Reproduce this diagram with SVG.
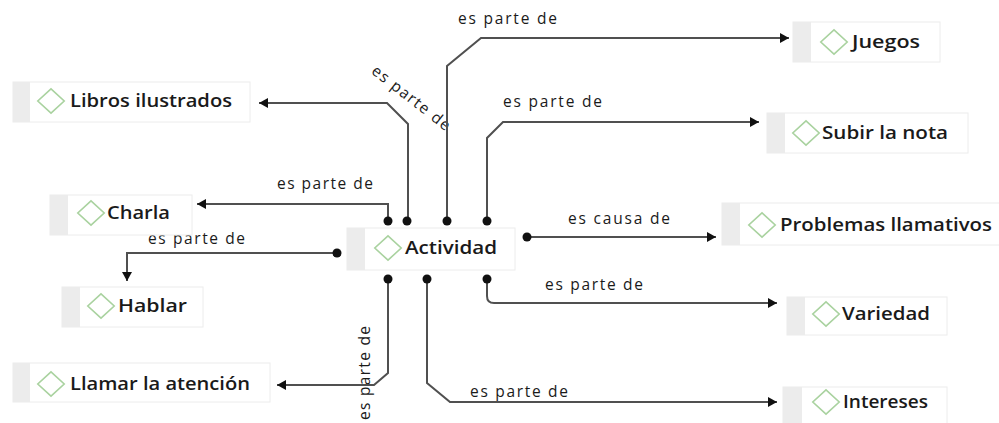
<svg xmlns="http://www.w3.org/2000/svg" width="999" height="423" viewBox="0 0 999 423">
<style>
.bg{fill:#ffffff}
.box{fill:#ffffff;stroke:#ececec;stroke-width:1}
.strip{fill:#ececec}
.dia{fill:#ffffff;stroke:#a9d29f;stroke-width:1.6}
.nt{font-family:"Open Sans","Noto Sans",sans-serif;font-weight:600;font-size:18px;fill:#1a1a1a}
.lt{font-family:"Open Sans","Noto Sans",sans-serif;font-size:15.5px;fill:#1a1a1a}
.c{fill:none;stroke:#505050;stroke-width:2}
.dot{fill:#111111}
</style>
<defs>
<marker id="ah" markerUnits="userSpaceOnUse" markerWidth="12" markerHeight="12" viewBox="0 0 12 12" refX="10" refY="6" orient="auto">
<path d="M1,1 L10,6 L1,11 Z" fill="#111111"/>
</marker>
<symbol id="d" viewBox="0 0 28 26" overflow="visible"><path class="dia" d="M14,0.8 L27.2,13 L14,25.2 L0.8,13 Z"/></symbol>
</defs>
<rect class="bg" x="0" y="0" width="999" height="423"/>

<g id="labels">
<text class="lt" x="458" y="24" textLength="99" lengthAdjust="spacing">es parte de</text>
<text class="lt" x="503" y="107" textLength="99" lengthAdjust="spacing">es parte de</text>
<text class="lt" transform="translate(408,102) rotate(38)" text-anchor="middle" textLength="95" lengthAdjust="spacing">es parte de</text>
<text class="lt" x="277" y="189" textLength="96" lengthAdjust="spacing">es parte de</text>
<text class="lt" x="148" y="244" textLength="97" lengthAdjust="spacing">es parte de</text>
<text class="lt" x="568" y="224" textLength="102" lengthAdjust="spacing">es causa de</text>
<text class="lt" x="545" y="290" textLength="98" lengthAdjust="spacing">es parte de</text>
<text class="lt" transform="translate(370,373) rotate(-90)" text-anchor="middle" textLength="94" lengthAdjust="spacing">es parte de</text>
<text class="lt" x="470" y="397" textLength="98" lengthAdjust="spacing">es parte de</text>
</g>

<g id="connectors">
<path class="c" d="M408,221 V124 L387,103 H259" marker-end="url(#ah)"/>
<path class="c" d="M447,221 V66 L481,38 H789" marker-end="url(#ah)"/>
<path class="c" d="M487,221 V138 L503,122 H759" marker-end="url(#ah)"/>
<path class="c" d="M388,221 V204 H197" marker-end="url(#ah)"/>
<path class="c" d="M337,253 H127 V281" marker-end="url(#ah)"/>
<path class="c" d="M527,237 H716" marker-end="url(#ah)"/>
<path class="c" d="M487,279 V296 Q487,303 494,303 H777" marker-end="url(#ah)"/>
<path class="c" d="M388,279 V373 L374,385 H277" marker-end="url(#ah)"/>
<path class="c" d="M427,279 V383 L450,402 H777" marker-end="url(#ah)"/>
<circle class="dot" cx="388" cy="221" r="4.5"/>
<circle class="dot" cx="407" cy="221" r="4.5"/>
<circle class="dot" cx="447" cy="221" r="4.5"/>
<circle class="dot" cx="487" cy="221" r="4.5"/>
<circle class="dot" cx="337" cy="253" r="4.5"/>
<circle class="dot" cx="527" cy="237" r="4.5"/>
<circle class="dot" cx="388" cy="279" r="4.5"/>
<circle class="dot" cx="427" cy="279" r="4.5"/>
<circle class="dot" cx="487" cy="279" r="4.5"/>
</g>

<g id="n-libros">
<rect class="box" x="13" y="82" width="237" height="40"/><rect class="strip" x="13" y="82" width="17" height="40"/>
<use href="#d" x="37" y="88" width="28" height="26"/>
<text class="nt" x="70" y="107" textLength="162" lengthAdjust="spacingAndGlyphs">Libros ilustrados</text>
</g>
<g id="n-juegos">
<rect class="box" x="793" y="22" width="147" height="40"/><rect class="strip" x="793" y="22" width="18" height="40"/>
<use href="#d" x="820" y="29" width="28" height="26"/>
<text class="nt" x="852" y="48" textLength="68" lengthAdjust="spacingAndGlyphs">Juegos</text>
</g>
<g id="n-subir">
<rect class="box" x="767" y="113" width="201" height="40"/><rect class="strip" x="767" y="113" width="18" height="40"/>
<use href="#d" x="792" y="120" width="28" height="26"/>
<text class="nt" x="822" y="139" textLength="126" lengthAdjust="spacingAndGlyphs">Subir la nota</text>
</g>
<g id="n-charla">
<rect class="box" x="50" y="195" width="142" height="40"/><rect class="strip" x="50" y="195" width="18" height="40"/>
<use href="#d" x="77" y="200" width="28" height="26"/>
<text class="nt" x="107" y="219" textLength="63" lengthAdjust="spacingAndGlyphs">Charla</text>
</g>
<g id="n-hablar">
<rect class="box" x="62" y="287" width="141" height="40"/><rect class="strip" x="62" y="287" width="18" height="40"/>
<use href="#d" x="87" y="293" width="28" height="26"/>
<text class="nt" x="118" y="312" textLength="69" lengthAdjust="spacingAndGlyphs">Hablar</text>
</g>
<g id="n-actividad">
<rect class="box" x="347" y="228" width="168" height="42"/><rect class="strip" x="347" y="228" width="18" height="42"/>
<use href="#d" x="374" y="235" width="28" height="26"/>
<text class="nt" x="405" y="254" textLength="92" lengthAdjust="spacingAndGlyphs">Actividad</text>
</g>
<g id="n-problemas">
<rect class="box" x="722" y="203" width="290" height="42"/><rect class="strip" x="722" y="203" width="18" height="42"/>
<use href="#d" x="748" y="212" width="28" height="26"/>
<text class="nt" x="780" y="231" textLength="212" lengthAdjust="spacingAndGlyphs">Problemas llamativos</text>
</g>
<g id="n-variedad">
<rect class="box" x="787" y="297" width="160" height="38"/><rect class="strip" x="787" y="297" width="18" height="38"/>
<use href="#d" x="812" y="301" width="28" height="26"/>
<text class="nt" x="842" y="320" textLength="88" lengthAdjust="spacingAndGlyphs">Variedad</text>
</g>
<g id="n-llamar">
<rect class="box" x="13" y="363" width="257" height="39"/><rect class="strip" x="13" y="363" width="17" height="39"/>
<use href="#d" x="37" y="371" width="28" height="26"/>
<text class="nt" x="70" y="390" textLength="180" lengthAdjust="spacingAndGlyphs">Llamar la atención</text>
</g>
<g id="n-intereses">
<rect class="box" x="783" y="387" width="164" height="40"/><rect class="strip" x="783" y="387" width="19" height="40"/>
<use href="#d" x="812" y="389" width="28" height="26"/>
<text class="nt" x="843" y="408" textLength="85" lengthAdjust="spacingAndGlyphs">Intereses</text>
</g>
</svg>
